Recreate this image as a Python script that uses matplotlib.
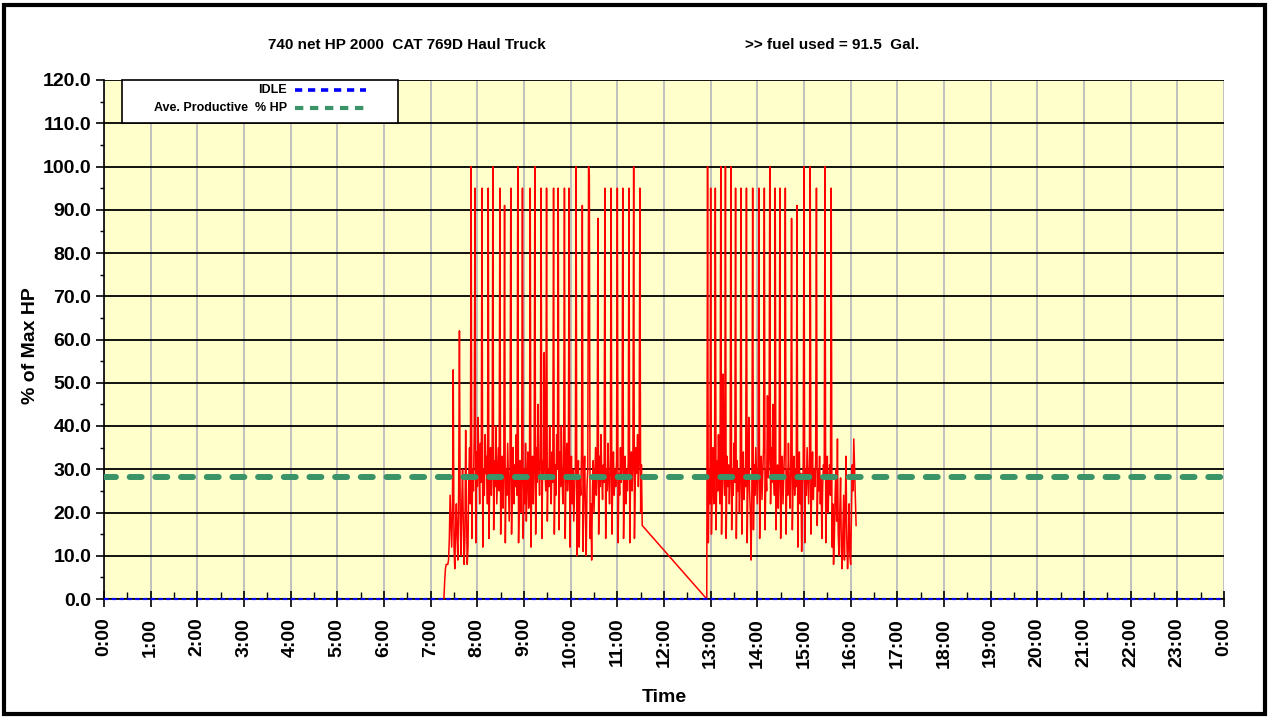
import numpy as np
import matplotlib
matplotlib.use("Agg")
import matplotlib.pyplot as plt
from matplotlib.lines import Line2D
from matplotlib.patches import Rectangle
from matplotlib.ticker import MultipleLocator

# ---------------- data ----------------
title_left = "740 net HP 2000  CAT 769D Haul Truck"
title_right = ">> fuel used = 91.5  Gal."

# % of max HP, one sample per minute
block1_start = "7:17"
block1_values = [
    0, 4, 7, 8, 8, 8, 9, 14, 24, 18,
    12, 20, 53, 12, 7, 16, 22, 14, 9, 25,
    62, 18, 10, 22, 30, 17, 8, 14, 39, 20,
    8, 12, 28, 35, 22, 100, 14, 30, 25, 38,
    95, 13, 34, 26, 42, 30, 22, 36, 27, 95,
    12, 30, 24, 38, 29, 33, 22, 95, 14, 28,
    35, 24, 30, 100, 16, 32, 26, 40, 22, 29,
    35, 25, 95, 15, 27, 33, 21, 30, 91, 13,
    30, 24, 36, 27, 18, 30, 95, 15, 28, 35,
    22, 31, 26, 38, 24, 100, 13, 25, 32, 20,
    28, 95, 14, 30, 22, 36, 18, 28, 34, 21,
    25, 95, 12, 28, 33, 22, 30, 100, 15, 35,
    27, 45, 30, 24, 33, 95, 14, 32, 28, 57,
    30, 25, 95, 18, 30, 26, 40, 28, 22, 34,
    27, 95, 15, 31, 24, 38, 30, 95, 16, 34,
    26, 40, 28, 22, 31, 95, 14, 30, 36, 25,
    29, 95, 12, 27, 33, 22, 30, 18, 25, 31,
    100, 10, 26, 32, 12, 28, 24, 34, 91, 11,
    28, 33, 20, 10, 26, 30, 100, 98, 14, 22,
    9, 25, 32, 20, 28, 35, 24, 30, 88, 15,
    33, 26, 38, 28, 23, 31, 27, 95, 14, 30,
    25, 36, 28, 22, 30, 95, 15, 27, 34, 24,
    30, 26, 32, 95, 13, 29, 24, 35, 27, 31,
    95, 14, 26, 33, 22, 30, 25, 32, 95, 13,
    28, 34, 25, 31, 100, 14, 27, 35, 29, 38,
    26, 32, 95, 20, 31, 17,
]

block2_start = "12:55"
block2_values = [
    0, 100, 13, 30, 22, 95, 15, 28, 35, 22,
    30, 95, 16, 32, 25, 38, 27, 22, 100, 15,
    30, 52, 28, 24, 100, 14, 33, 26, 31, 22,
    28, 100, 16, 30, 24, 36, 27, 95, 14, 32,
    25, 30, 20, 28, 95, 15, 27, 34, 23, 30,
    26, 95, 13, 29, 42, 25, 20, 9, 26, 95,
    16, 31, 24, 35, 28, 22, 30, 95, 14, 28,
    33, 23, 29, 35, 95, 16, 30, 25, 47, 28,
    33, 100, 22, 35, 27, 45, 30, 24, 95, 16,
    25, 31, 21, 28, 95, 14, 27, 33, 22, 29,
    35, 95, 15, 30, 24, 36, 27, 21, 30, 88,
    16, 28, 33, 24, 30, 26, 91, 12, 27, 34,
    22, 29, 11, 25, 31, 100, 13, 30, 24, 35,
    28, 22, 31, 100, 15, 28, 34, 23, 30, 26,
    32, 95, 17, 30, 25, 33, 22, 28, 14, 26,
    31, 29, 100, 13, 28, 33, 20, 27, 31, 24,
    95, 12, 22, 8, 14, 24, 30, 18, 37, 15,
    10, 20, 28, 12, 7, 15, 24, 9, 20, 33,
    14, 7, 12, 22, 10, 8, 20, 31, 25, 37,
    30, 22, 17,
]

idle_level = 0.0
avg_productive_pct = 28.3

y_ticks = [0, 10, 20, 30, 40, 50, 60, 70, 80, 90, 100, 110, 120]
x_tick_labels = ["0:00", "1:00", "2:00", "3:00", "4:00", "5:00", "6:00",
                 "7:00", "8:00", "9:00", "10:00", "11:00", "12:00", "13:00",
                 "14:00", "15:00", "16:00", "17:00", "18:00", "19:00",
                 "20:00", "21:00", "22:00", "23:00", "0:00"]
legend_labels = ["IDLE", "Ave. Productive  % HP"]


def block_hours(start, values):
    h, m = (int(p) for p in start.split(":"))
    return (h * 60 + m + np.arange(len(values))) / 60.0


times = np.concatenate([block_hours(block1_start, block1_values),
                        block_hours(block2_start, block2_values)])
values = np.array(block1_values + block2_values, dtype=float)

# ---------------- drawing ----------------
plt.rcParams['font.family'] = ['Liberation Sans Narrow', 'Liberation Sans', 'DejaVu Sans']

W, H = 1269, 719
fig = plt.figure(figsize=(W / 100, H / 100), dpi=100)
fig.patch.set_facecolor('white')

ax_l, ax_r, ax_t, ax_b = 104, 1224, 80, 599
ax = fig.add_axes([ax_l / W, (H - ax_b) / H, (ax_r - ax_l) / W, (ax_b - ax_t) / H])
ax.set_facecolor('#FFFFCC')

ax.plot(times, values, color='#FF0000', lw=1.1, zorder=3)
ax.axhline(avg_productive_pct, color='#3A9468', lw=4.3, dashes=(2.0, 2.3),
           dash_capstyle='round', zorder=4)
ax.axhline(idle_level, color='#0000FF', lw=1.6, dashes=(2.0, 1.5),
           zorder=6, clip_on=False)

ax.set_xlim(0, 24)
ax.set_ylim(0, 120)

ax.set_xticks(range(25))
ax.set_xticklabels(x_tick_labels, rotation=90, fontsize=14, fontweight='bold')
ax.xaxis.set_minor_locator(MultipleLocator(0.5))
ax.tick_params(axis='x', which='major', direction='inout', length=11, width=1.2,
               pad=8)
ax.tick_params(axis='x', which='minor', direction='in', length=5, width=1.0)

ax.set_yticks(y_ticks)
ax.set_yticklabels([f"{v:.1f}" for v in y_ticks], fontsize=14, fontweight='bold')
ax.yaxis.set_minor_locator(MultipleLocator(5))
ax.tick_params(axis='y', which='major', direction='out', length=6, width=1.2, pad=3)
ax.tick_params(axis='y', which='minor', direction='out', length=3, width=1.0)

ax.yaxis.grid(True, color='black', lw=1.3, zorder=1)
ax.xaxis.grid(True, color='#C0C0C0', lw=1.4, zorder=1)
ax.set_axisbelow(True)

for s in ('top', 'right'):
    ax.spines[s].set_visible(False)
for s in ('left', 'bottom'):
    ax.spines[s].set_color('black')
    ax.spines[s].set_linewidth(1.2)

ax.set_xlabel("Time", fontsize=14, fontweight='bold', va='center')
ax.xaxis.set_label_coords(0.5, (ax_b - 697) / (ax_b - ax_t))
ax.set_ylabel("% of Max HP", fontsize=14, fontweight='bold', va='center', ha='center')
ax.yaxis.set_label_coords((31 - ax_l) / (ax_r - ax_l), (ax_b - 346) / (ax_b - ax_t))

# legend box (drawn like the spreadsheet legend: label, then line sample)
def ax_x(px):
    return (px - ax_l) / (ax_r - ax_l)


def ax_y(py):
    return (ax_b - py) / (ax_b - ax_t)


ax.add_patch(Rectangle((ax_x(122), ax_y(123)), ax_x(398) - ax_x(122),
                       ax_y(80) - ax_y(123), transform=ax.transAxes,
                       facecolor='white', edgecolor='black', lw=1.2,
                       zorder=7, clip_on=False))
leg_styles = [dict(color='#0000FF', lw=2.6, dashes=(2.0, 1.6)),
              dict(color='#3A9468', lw=3.0, dashes=(2.0, 1.6))]
for label, style, py in zip(legend_labels, leg_styles, (90, 108)):
    ax.text(ax_x(287), ax_y(py), label, transform=ax.transAxes, ha='right',
            va='center', fontsize=9, fontweight='bold', zorder=8)
    ax.add_line(Line2D([ax_x(295), ax_x(366)], [ax_y(py), ax_y(py)],
                       transform=ax.transAxes, zorder=8, clip_on=False, **style))

fig.text(268 / W, 1 - 45 / H, title_left, ha='left', va='center',
         fontsize=11, fontweight='bold')
fig.text(745 / W, 1 - 45 / H, title_right, ha='left', va='center',
         fontsize=11, fontweight='bold')

fig.patches.append(Rectangle((4 / W, 5 / H), 1261 / W, 709 / H,
                             transform=fig.transFigure, fill=False,
                             edgecolor='black', lw=3))

fig.savefig("out.png", dpi=100)
